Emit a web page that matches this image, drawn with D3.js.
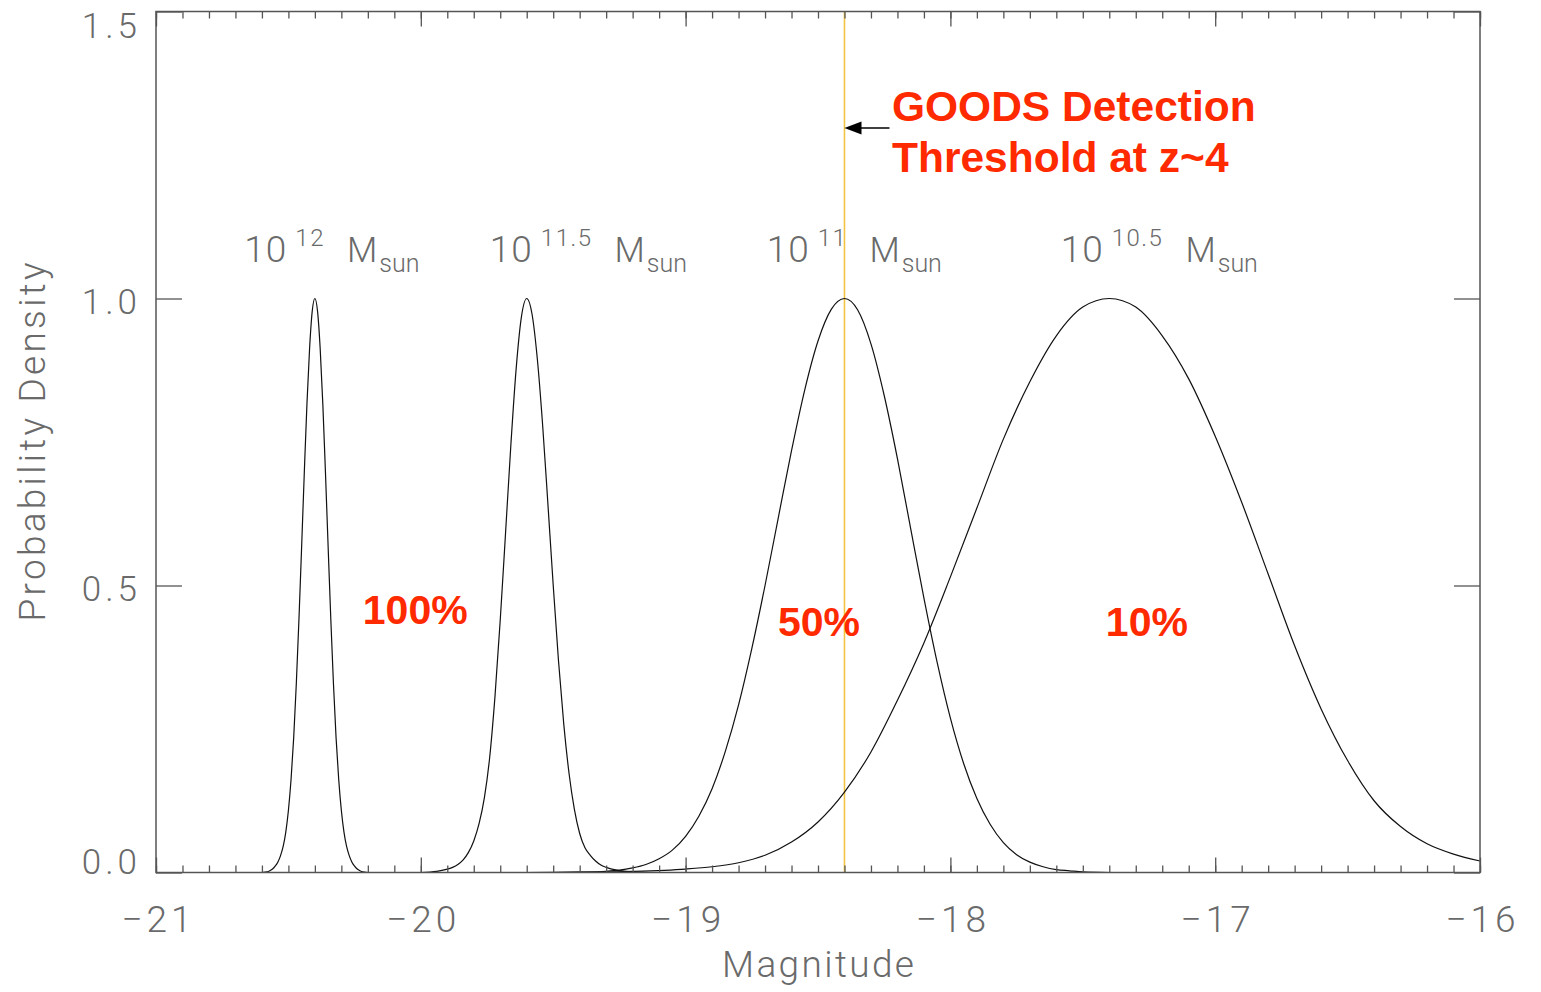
<!DOCTYPE html>
<html>
<head>
<meta charset="utf-8">
<script src="https://cdn.jsdelivr.net/npm/d3@7"></script>
<style>
  body { margin: 0; background: #fff; }
  svg text { font-family: Roboto, "DejaVu Sans", sans-serif; }
  .thin { font-weight: 300; fill: #6a6a6a; }
  .red { font-family: "Liberation Sans", Arial, sans-serif !important; font-weight: bold; fill: #ff2a00; }
</style>
</head>
<body>
<svg id="chart" width="1541" height="992"></svg>
<script>
// ---- data: normalised probability density vs absolute magnitude ----
const massExponents = ["12", "11.5", "11", "10.5"];

const curve12 = [
  [-20.60, 0], [-20.58, 0.001], [-20.57, 0.003], [-20.56, 0.006], [-20.55, 0.011],
  [-20.54, 0.018], [-20.53, 0.029], [-20.52, 0.045], [-20.51, 0.070], [-20.50, 0.108],
  [-20.49, 0.162], [-20.48, 0.235], [-20.47, 0.330], [-20.46, 0.443], [-20.45, 0.568],
  [-20.44, 0.696], [-20.43, 0.816], [-20.42, 0.913], [-20.41, 0.978], [-20.40, 1.0],
  [-20.39, 0.978], [-20.38, 0.913], [-20.37, 0.816], [-20.36, 0.696], [-20.35, 0.568],
  [-20.34, 0.443], [-20.33, 0.330], [-20.32, 0.235], [-20.31, 0.162], [-20.30, 0.108],
  [-20.29, 0.070], [-20.28, 0.045], [-20.27, 0.029], [-20.26, 0.018], [-20.25, 0.011],
  [-20.24, 0.006], [-20.23, 0.003], [-20.22, 0.001], [-20.20, 0]
];
const curve115 = [
  [-20.00, 0], [-19.94, 0.002], [-19.90, 0.006], [-19.88, 0.009], [-19.86, 0.014],
  [-19.84, 0.022], [-19.82, 0.035], [-19.80, 0.055], [-19.78, 0.085], [-19.76, 0.130],
  [-19.74, 0.200], [-19.72, 0.306], [-19.70, 0.440], [-19.68, 0.591], [-19.66, 0.744],
  [-19.64, 0.877], [-19.62, 0.968], [-19.60, 1.0], [-19.58, 0.973], [-19.56, 0.895],
  [-19.54, 0.780], [-19.52, 0.642], [-19.50, 0.501], [-19.48, 0.369], [-19.46, 0.258],
  [-19.44, 0.172], [-19.42, 0.110], [-19.40, 0.068], [-19.38, 0.043], [-19.36, 0.030],
  [-19.34, 0.020], [-19.32, 0.013], [-19.30, 0.009], [-19.26, 0.004], [-19.20, 0.001],
  [-19.14, 0]
];
const curve11 = [
  [-19.50, 0], [-19.40, 0.0005], [-19.30, 0.002], [-19.25, 0.004], [-19.20, 0.008],
  [-19.15, 0.014], [-19.10, 0.024], [-19.05, 0.039], [-19.00, 0.063], [-18.95, 0.098],
  [-18.90, 0.146], [-18.85, 0.211], [-18.80, 0.292], [-18.75, 0.390], [-18.70, 0.500],
  [-18.65, 0.618], [-18.60, 0.735], [-18.55, 0.841], [-18.50, 0.926], [-18.45, 0.981],
  [-18.40, 1.0], [-18.35, 0.980], [-18.30, 0.921], [-18.25, 0.831], [-18.20, 0.721],
  [-18.15, 0.599], [-18.10, 0.478], [-18.05, 0.366], [-18.00, 0.269], [-17.95, 0.190],
  [-17.90, 0.129], [-17.85, 0.084], [-17.80, 0.052], [-17.75, 0.031], [-17.70, 0.018],
  [-17.65, 0.010], [-17.60, 0.005], [-17.55, 0.003], [-17.50, 0.001], [-17.40, 0]
];
const curve105 = [
  [-19.60, 0], [-19.40, 0.0005], [-19.20, 0.002], [-19.00, 0.006], [-18.90, 0.010],
  [-18.80, 0.017], [-18.70, 0.030], [-18.60, 0.053], [-18.50, 0.088], [-18.40, 0.140],
  [-18.30, 0.210], [-18.20, 0.300], [-18.10, 0.400], [-18.00, 0.515], [-17.90, 0.635],
  [-17.80, 0.755], [-17.70, 0.855], [-17.60, 0.935], [-17.50, 0.985], [-17.40, 1.0],
  [-17.30, 0.985], [-17.20, 0.935], [-17.10, 0.860], [-17.00, 0.760], [-16.90, 0.645],
  [-16.80, 0.520], [-16.70, 0.395], [-16.60, 0.285], [-16.50, 0.195], [-16.40, 0.125],
  [-16.30, 0.080], [-16.20, 0.050], [-16.10, 0.032], [-16.00, 0.020]
];
const curves = [curve12, curve115, curve11, curve105];

const detectionFractions = ["100%", "50%", "10%"];
const thresholdMagnitude = -18.4;
const thresholdText = ["GOODS Detection", "Threshold at z~4"];

const xTicks = [-21, -20, -19, -18, -17, -16];
const yTicks = [0.0, 0.5, 1.0, 1.5];
const xTitle = "Magnitude";
const yTitle = "Probability Density";

// ---- layout ----
const svg = d3.select("#chart");
const plot = { left: 156, right: 1480, top: 11.5, bottom: 872.5 };
const x = d3.scaleLinear().domain([-21, -16]).range([plot.left, plot.right]);
const y = d3.scaleLinear().domain([0, 1.5]).range([plot.bottom, plot.top]);

const massLabelAt = [-20.655, -19.728, -18.682, -17.572];   // left edge of each "10^n M_sun" label
const fractionLabelAt = [[-20.021, 0.433], [-18.496, 0.412], [-17.258, 0.412]];
const axisColor = "#555";

svg.append("rect").attr("width", 1541).attr("height", 992).attr("fill", "#fff");

// threshold line
svg.append("line")
  .attr("x1", x(thresholdMagnitude)).attr("x2", x(thresholdMagnitude))
  .attr("y1", plot.top).attr("y2", plot.bottom)
  .attr("stroke", "#f3c443").attr("stroke-width", 1.6);

// density curves
const line = d3.line()
  .x(d => x(d[0])).y(d => y(d[1]))
  .curve(d3.curveMonotoneX);
svg.append("g").selectAll("path").data(curves).join("path")
  .attr("d", line)
  .attr("fill", "none").attr("stroke", "#111").attr("stroke-width", 1.2);

// axes
const minorX = d3.range(-210, -159).map(d => d / 10);
function styleAxis(g) {
  g.select(".domain").remove();
  g.selectAll(".tick line").attr("stroke", axisColor).attr("stroke-width", 1.3);
}
svg.append("g").attr("transform", `translate(0,${plot.bottom})`)
  .call(d3.axisBottom(x).tickValues(minorX).tickSize(-7).tickSizeOuter(0).tickFormat(""))
  .call(styleAxis);
svg.append("g").attr("transform", `translate(0,${plot.top})`)
  .call(d3.axisTop(x).tickValues(minorX).tickSize(-7).tickSizeOuter(0).tickFormat(""))
  .call(styleAxis);
svg.append("g").attr("transform", `translate(0,${plot.top})`)
  .call(d3.axisTop(x).tickValues(xTicks).tickSize(-15).tickSizeOuter(0).tickFormat(""))
  .call(styleAxis);
const xAxis = svg.append("g").attr("transform", `translate(0,${plot.bottom})`)
  .call(d3.axisBottom(x).tickValues(xTicks).tickSize(-15).tickSizeOuter(0).tickPadding(33)
    .tickFormat(d3.format("d")))
  .call(styleAxis);
xAxis.selectAll("text").attr("class", "thin").attr("font-size", 37)
  .style("letter-spacing", "4px").attr("dx", "2px");

const yAxis = svg.append("g").attr("transform", `translate(${plot.left},0)`)
  .call(d3.axisLeft(y).tickValues(yTicks).tickSize(-26).tickSizeOuter(0).tickPadding(15)
    .tickFormat(d3.format(".1f")))
  .call(styleAxis);
yAxis.selectAll("text").attr("class", "thin").attr("font-size", 35)
  .style("letter-spacing", "4px")
  .attr("dy", null)
  .attr("y", d => {
    const base = y(d) + 15;
    return Math.min(Math.max(base, plot.top + 26), plot.bottom + 1) - y(d);
  });
svg.append("g").attr("transform", `translate(${plot.right},0)`)
  .call(d3.axisRight(y).tickValues(yTicks).tickSize(-26).tickSizeOuter(0).tickFormat(""))
  .call(styleAxis);

// frame
svg.append("rect")
  .attr("x", plot.left).attr("y", plot.top)
  .attr("width", plot.right - plot.left).attr("height", plot.bottom - plot.top)
  .attr("fill", "none").attr("stroke", axisColor).attr("stroke-width", 1.5);

// axis titles
svg.append("text").attr("class", "thin")
  .attr("x", (plot.left + plot.right) / 2).attr("y", 977)
  .attr("text-anchor", "middle").attr("font-size", 37)
  .attr("textLength", 192).attr("lengthAdjust", "spacing")
  .text(xTitle);
svg.append("text").attr("class", "thin")
  .attr("transform", `translate(45,${(plot.top + plot.bottom) / 2}) rotate(-90)`)
  .attr("text-anchor", "middle").attr("font-size", 37)
  .attr("textLength", 359).attr("lengthAdjust", "spacing")
  .text(yTitle);

// mass labels: 10^n M_sun
massExponents.forEach((e, i) => {
  const x0 = x(massLabelAt[i]);
  const g = svg.append("g").attr("class", "mass-label");
  g.append("text").attr("class", "thin").attr("x", x0 - 3).attr("y", 262)
    .attr("font-size", 37).style("letter-spacing", "1px").text("10");
  const sup = g.append("text").attr("class", "thin").attr("x", x0 + 48).attr("y", 246)
    .attr("font-size", 24).style("letter-spacing", "1.5px").text(e);
  const supEnd = x0 + 48 + sup.node().getComputedTextLength();
  const m = g.append("text").attr("class", "thin").attr("x", supEnd + 22).attr("y", 262)
    .attr("font-size", 35).text("M");
  const mEnd = supEnd + 22 + m.node().getComputedTextLength();
  g.append("text").attr("class", "thin").attr("x", mEnd + 2).attr("y", 272)
    .attr("font-size", 25).text("sun");
});

// detection fractions
svg.append("g").selectAll("text").data(detectionFractions).join("text")
  .attr("class", "red")
  .attr("x", (d, i) => x(fractionLabelAt[i][0]))
  .attr("y", (d, i) => y(fractionLabelAt[i][1]))
  .attr("text-anchor", "middle").attr("font-size", 41)
  .text(d => d);

// threshold annotation
svg.append("g").selectAll("text").data(thresholdText).join("text")
  .attr("class", "red")
  .attr("x", 892).attr("y", (d, i) => 121 + i * 51)
  .attr("font-size", 42.5)
  .text(d => d);
const ax = x(thresholdMagnitude), ay = 128;
svg.append("line").attr("x1", ax + 12).attr("x2", ax + 45).attr("y1", ay).attr("y2", ay)
  .attr("stroke", "#000").attr("stroke-width", 1.5);
svg.append("path")
  .attr("d", `M${ax},${ay} L${ax + 17},${ay - 6.5} L${ax + 17},${ay + 6.5} Z`)
  .attr("fill", "#000");
</script>
</body>
</html>
